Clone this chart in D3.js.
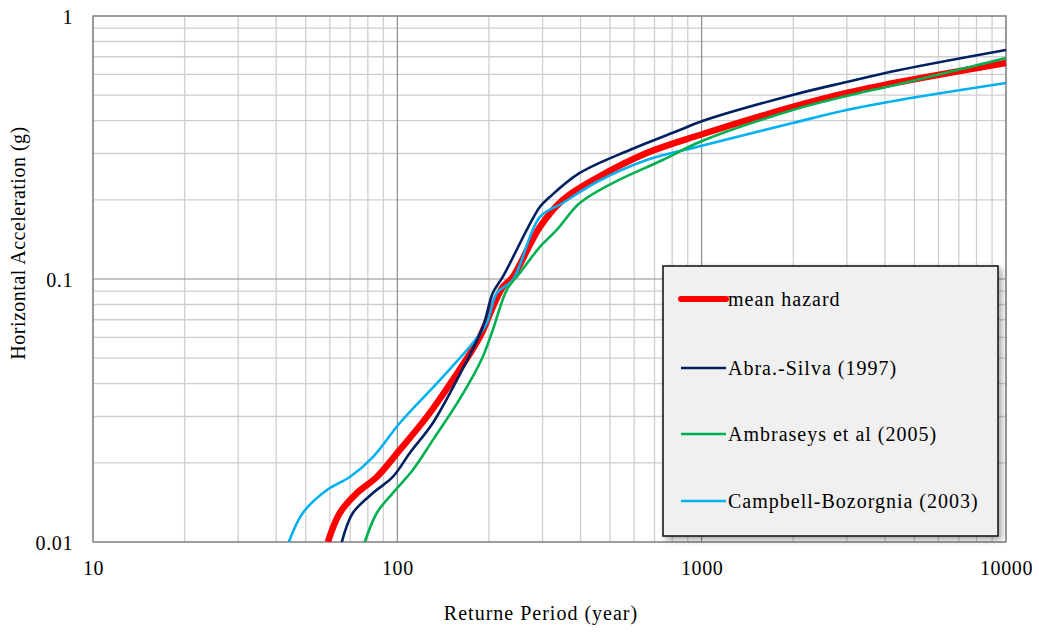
<!DOCTYPE html>
<html>
<head>
<meta charset="utf-8">
<script src="https://cdn.jsdelivr.net/npm/d3@7"></script>
<style>
  html, body { margin: 0; padding: 0; background: #fff; }
  svg { display: block; font-family: "Liberation Serif", "DejaVu Serif", serif; }
</style>
</head>
<body>
<svg id="chart" width="1039" height="634"></svg>
<script>
// ---- data (return period in years, horizontal acceleration in g) ----
const meanPeriod = [59.1, 64.7, 73.6, 85.6, 101.9, 125, 152, 186.6, 205.9, 222, 239.4, 293.8, 349.6, 452, 659.7, 985, 1990, 2994, 4470, 10000];
const meanAccel  = [0.0100, 0.01289, 0.01535, 0.01767, 0.0224, 0.0299, 0.0413, 0.0602, 0.0782, 0.0932, 0.1018, 0.1576, 0.1997, 0.242, 0.3013, 0.3528, 0.4508, 0.5095, 0.561, 0.663];

const abraPeriod = [65.7, 71.4, 83.1, 96.6, 109.9, 130.8, 156.9, 190.9, 205.9, 222, 293.8, 316.8, 397.5, 580, 847, 985, 1990, 2994, 4470, 10000];
const abraAccel  = [0.0100, 0.01289, 0.01535, 0.01767, 0.0218, 0.02835, 0.0413, 0.0657, 0.0885, 0.1018, 0.1878, 0.205, 0.253, 0.3094, 0.3685, 0.3953, 0.5008, 0.561, 0.6232, 0.7426];

const ambPeriod = [78.2, 85.6, 96.6, 112.4, 130.8, 160.4, 190, 205.9, 228.8, 252.6, 293.8, 334, 397.5, 510, 744.7, 985, 1990, 2994, 4470, 10000];
const ambAccel  = [0.0100, 0.01289, 0.01535, 0.01878, 0.0244, 0.0350, 0.0500, 0.064, 0.0908, 0.1054, 0.1323, 0.1536, 0.1945, 0.2317, 0.2835, 0.3319, 0.439, 0.4964, 0.5514, 0.692];

const cbPeriod = [44.0, 48.9, 58.7, 69.8, 83.1, 101.9, 137.9, 177, 196.8, 212.3, 239.4, 293.8, 349.6, 452, 659.7, 963, 1990, 2994, 4470, 10000];
const cbAccel  = [0.0100, 0.01289, 0.01576, 0.01767, 0.02104, 0.02835, 0.0413, 0.0571, 0.068, 0.0885, 0.0991, 0.172, 0.1945, 0.2338, 0.2835, 0.3176, 0.3918, 0.439, 0.4793, 0.556];

const seriesNames = ["mean hazard", "Abra.-Silva (1997)", "Ambraseys et al (2005)", "Campbell-Bozorgnia (2003)"];
const xTickValues = [10, 100, 1000, 10000];
const xTickLabels = ["10", "100", "1000", "10000"];
const yTickValues = [0.01, 0.1, 1];
const yTickLabels = ["0.01", "0.1", "1"];
const xTitle = "Returne Period (year)";
const yTitle = "Horizontal Acceleration (g)";

// ---- styles ----
const seriesStyle = [
  { color: "#ff0000", width: 6.5 },
  { color: "#002060", width: 2.6 },
  { color: "#00b050", width: 2.6 },
  { color: "#00b0f0", width: 2.6 }
];
const seriesData = [
  d3.zip(meanPeriod, meanAccel),
  d3.zip(abraPeriod, abraAccel),
  d3.zip(ambPeriod, ambAccel),
  d3.zip(cbPeriod, cbAccel)
];

const svg = d3.select("#chart");
const plot = { left: 93, right: 1006, top: 16, bottom: 542 };

const x = d3.scaleLog().domain([10, 10000]).range([plot.left, plot.right]);
const y = d3.scaleLog().domain([0.01, 1]).range([plot.bottom, plot.top]);

// minor ticks
const xMinor = [];
for (let d = 10; d < 10000; d *= 10) for (let k = 2; k <= 9; k++) xMinor.push(d * k);
const yMinor = [];
for (let d = 0.01; d < 1; d *= 10) for (let k = 2; k <= 9; k++) yMinor.push(+(d * k).toPrecision(3));

const grid = svg.append("g");
grid.selectAll(".xmin").data(xMinor).join("line")
  .attr("x1", d => x(d)).attr("x2", d => x(d))
  .attr("y1", plot.top).attr("y2", plot.bottom)
  .attr("stroke", "#cfcfcf").attr("stroke-width", 1.3);
grid.selectAll(".ymin").data(yMinor).join("line")
  .attr("y1", d => y(d)).attr("y2", d => y(d))
  .attr("x1", plot.left).attr("x2", plot.right)
  .attr("stroke", "#cfcfcf").attr("stroke-width", 1.3);
grid.selectAll(".xmaj").data(xTickValues).join("line")
  .attr("x1", d => x(d)).attr("x2", d => x(d))
  .attr("y1", plot.top).attr("y2", plot.bottom)
  .attr("stroke", "#8c8c8c").attr("stroke-width", 1.2);
grid.selectAll(".ymaj").data(yTickValues).join("line")
  .attr("y1", d => y(d)).attr("y2", d => y(d))
  .attr("x1", plot.left).attr("x2", plot.right)
  .attr("stroke", "#8c8c8c").attr("stroke-width", 1.2);
svg.append("rect")
  .attr("x", plot.left).attr("y", plot.top)
  .attr("width", plot.right - plot.left).attr("height", plot.bottom - plot.top)
  .attr("fill", "none").attr("stroke", "#8c8c8c").attr("stroke-width", 1.4);

// axes (labels only, via d3 axis generators)
const xAxis = d3.axisBottom(x).tickValues(xTickValues)
  .tickFormat((d, i) => xTickLabels[i]).tickSize(0).tickPadding(0);
const gx = svg.append("g").attr("transform", `translate(0,${plot.bottom})`).call(xAxis);
gx.select(".domain").remove();
gx.selectAll("text").attr("font-family", "Liberation Serif").attr("font-size", 20)
  .attr("fill", "#000").attr("dy", null).attr("y", 33).attr("letter-spacing", "0.6px");

const yAxis = d3.axisLeft(y).tickValues(yTickValues)
  .tickFormat((d, i) => yTickLabels[i]).tickSize(0).tickPadding(20);
const gy = svg.append("g").attr("transform", `translate(${plot.left},0)`).call(yAxis);
gy.select(".domain").remove();
gy.selectAll("text").attr("font-family", "Liberation Serif").attr("font-size", 20)
  .attr("fill", "#000").attr("dy", "0.35em").attr("letter-spacing", "0.6px");

// clip
svg.append("clipPath").attr("id", "plotclip").append("rect")
  .attr("x", plot.left).attr("y", plot.top)
  .attr("width", plot.right - plot.left).attr("height", plot.bottom - plot.top);

const line = d3.line().x(d => x(d[0])).y(d => y(d[1])).curve(d3.curveCatmullRom.alpha(0.5));

const lines = svg.append("g").attr("clip-path", "url(#plotclip)");
[0, 3, 2, 1].forEach(i => {
  lines.append("path").datum(seriesData[i])
    .attr("d", line).attr("fill", "none")
    .attr("stroke", seriesStyle[i].color)
    .attr("stroke-width", seriesStyle[i].width)
    .attr("stroke-linejoin", "round").attr("stroke-linecap", "butt");
});

// titles
svg.append("text").attr("x", 541).attr("y", 620).attr("text-anchor", "middle")
  .attr("font-size", 20).attr("letter-spacing", "1px").attr("fill", "#000").text(xTitle);
svg.append("text").attr("transform", "translate(25,243) rotate(-90)")
  .attr("text-anchor", "middle").attr("font-size", 20).attr("letter-spacing", "0.5px")
  .attr("fill", "#000").text(yTitle);

// legend
const defs = svg.append("defs");
const f = defs.append("filter").attr("id", "shadow").attr("x", "-10%").attr("y", "-10%").attr("width", "130%").attr("height", "130%");
f.append("feGaussianBlur").attr("in", "SourceAlpha").attr("stdDeviation", 3);
f.append("feOffset").attr("dx", 3).attr("dy", 3).attr("result", "ob");
f.append("feComponentTransfer").append("feFuncA").attr("type", "linear").attr("slope", 0.35);
const fm = f.append("feMerge");
fm.append("feMergeNode");
fm.append("feMergeNode").attr("in", "SourceGraphic");

const lg = svg.append("g");
lg.append("rect").attr("x", 663).attr("y", 266).attr("width", 335).attr("height", 270)
  .attr("fill", "#f0f0f0").attr("stroke", "#1a1a1a").attr("stroke-width", 1.6)
  .attr("filter", "url(#shadow)");
const itemY = [299, 368, 434, 501];
seriesNames.forEach((name, i) => {
  lg.append("line").attr("x1", 681).attr("x2", 726)
    .attr("y1", itemY[i]).attr("y2", itemY[i])
    .attr("stroke", seriesStyle[i].color)
    .attr("stroke-width", i === 0 ? 6 : 2.6)
    .attr("stroke-linecap", i === 0 ? "round" : "butt");
  lg.append("text").attr("x", 728).attr("y", itemY[i]).attr("dy", "0.33em")
    .attr("font-size", 20).attr("letter-spacing", "1px").attr("fill", "#000").text(name);
});
</script>
</body>
</html>
